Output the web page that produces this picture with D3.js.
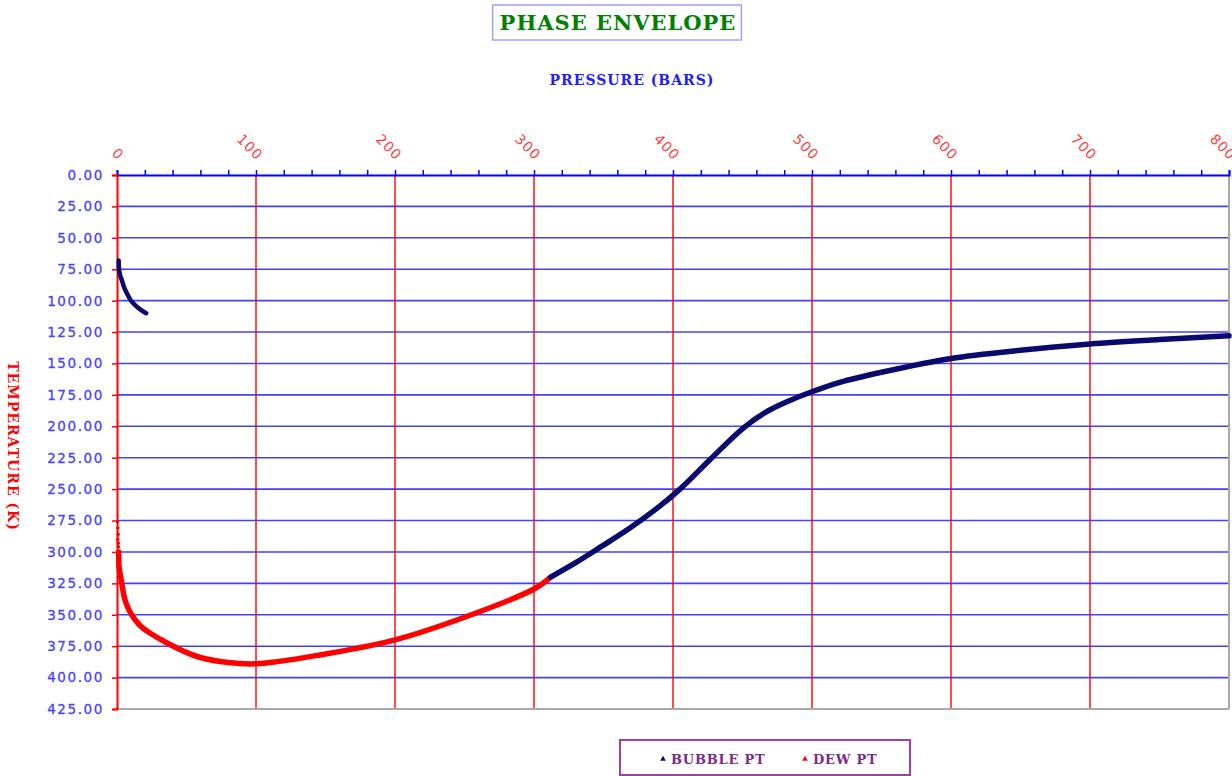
<!DOCTYPE html>
<html>
<head>
<meta charset="utf-8">
<script src="https://cdn.jsdelivr.net/npm/d3@7"></script>
<style>
  body { margin: 0; background: #fff; }
  svg { display: block; }
</style>
</head>
<body>
<div id="chart"></div>
<script>
// bubble point curve, low-pressure branch
var bubbleLowP = [1.2, 1.5, 2.3, 3.4, 5, 7, 9.5, 11.7, 15, 18, 21];
var bubbleLowT = [68, 75.6, 80, 83.5, 89, 94, 99, 102, 105.5, 108, 110];

// bubble point curve, high-pressure branch
var bubbleP = [312, 330, 348, 369, 390, 405, 428, 451, 468, 485, 500, 520, 550, 600, 650, 700, 750, 800];
var bubbleT = [320, 308.5, 296, 281, 264, 250, 225, 201, 188, 179, 172.5, 165, 157, 146, 139.5, 134.5, 131, 128];

// dew point curve
var dewP = [1.2, 1.5, 2.7, 5.7, 9, 13, 18, 23.7, 36, 48, 60, 80, 100, 146, 200, 250, 300, 312];
var dewT = [300, 312, 320, 338, 347, 354, 360, 364.5, 372.5, 379, 384, 388, 389, 382, 370, 352, 329.5, 320];

// loose dew points near zero pressure
var dewScatterP = [0.4, 0.6, 0.8, 0.5, 0.9, 1.0];
var dewScatterT = [276, 281, 286, 290, 293, 296];

var xTicks = [0, 100, 200, 300, 400, 500, 600, 700, 800];
var yTicks = d3.range(0, 426, 25);

var margin = {top: 175, right: 3, bottom: 67, left: 117},
width = 1232 - margin.left - margin.right,
height = 776 - margin.top - margin.bottom;

var svg = d3.select("#chart")
.append("svg")
.attr("width", 1232)
.attr("height", 776);

var g = svg.append("g")
.attr("transform", "translate(" + margin.left + "," + margin.top + ")");

var x = d3.scaleLinear().domain([0, 800]).range([0, width]);
var y = d3.scaleLinear().domain([0, 425]).range([0, height]);

// horizontal gridlines
g.selectAll(".hgrid")
.data(yTicks.slice(1, -1))
.enter()
.append("line")
.attr("x1", 0)
.attr("x2", width)
.attr("y1", function(d) { return y(d); })
.attr("y2", function(d) { return y(d); })
.attr("stroke", "#0000ff")
.attr("stroke-opacity", 0.75)
.attr("stroke-width", 1.6);

// vertical gridlines
g.selectAll(".vgrid")
.data(xTicks.slice(1, -1))
.enter()
.append("line")
.attr("x1", function(d) { return x(d); })
.attr("x2", function(d) { return x(d); })
.attr("y1", 0)
.attr("y2", height)
.attr("stroke", "#ff0000")
.attr("stroke-opacity", 0.7)
.attr("stroke-width", 2);

// plot border right/bottom
g.append("line").attr("x1", 0).attr("x2", width).attr("y1", height).attr("y2", height)
.attr("stroke", "#a8a8a8").attr("stroke-width", 2);
g.append("line").attr("x1", width).attr("x2", width).attr("y1", 0).attr("y2", height)
.attr("stroke", "#a8a8a8").attr("stroke-width", 2);

// top x axis
var xAxis = g.append("g")
.call(d3.axisTop(x).tickValues(d3.range(0, 801, 20)).tickSize(5).tickFormat(""));
xAxis.select(".domain").attr("stroke", "#0000ff").attr("stroke-width", 2);
xAxis.selectAll(".tick line").attr("stroke", "#0000ff").attr("stroke-width", 1.5);

g.selectAll(".xlab")
.data(xTicks)
.enter()
.append("text")
.attr("transform", function(d) { return "translate(" + (x(d) + 1) + ",-14) rotate(45)"; })
.attr("text-anchor", "end")
.attr("font-family", "DejaVu Sans")
.attr("font-size", "14px")
.attr("fill", "#ff4040")
.attr("letter-spacing", "1px")
.text(function(d) { return d; });

// left y axis
var yAxis = g.append("g")
.call(d3.axisLeft(y).tickValues(yTicks).tickSize(5).tickFormat(""));
yAxis.select(".domain").attr("stroke", "#ff0000").attr("stroke-width", 2);
yAxis.selectAll(".tick line").attr("stroke", "#ff0000").attr("stroke-width", 1.5);

g.selectAll(".ylab")
.data(yTicks)
.enter()
.append("text")
.attr("x", -13)
.attr("y", function(d) { return y(d); })
.attr("dy", "0.36em")
.attr("text-anchor", "end")
.attr("font-family", "DejaVu Sans")
.attr("font-size", "13.5px")
.attr("letter-spacing", "1.6px")
.attr("fill", "#4444ff")
.attr("stroke", "#4444ff")
.attr("stroke-width", 0.3)
.text(function(d) { return d3.format(".2f")(d); });

// curves
var line = d3.line()
.x(function(d) { return x(d[0]); })
.y(function(d) { return y(d[1]); })
.curve(d3.curveCatmullRom);

function zip(a, b) { return a.map(function(v, i) { return [v, b[i]]; }); }

g.append("path")
.datum(zip(dewP, dewT))
.attr("d", line)
.attr("fill", "none")
.attr("stroke", "#ff0000")
.attr("stroke-width", 5.5)
.attr("stroke-linecap", "round");

g.selectAll(".dewdot")
.data(zip(dewScatterP, dewScatterT))
.enter()
.append("circle")
.attr("cx", function(d) { return x(d[0]); })
.attr("cy", function(d) { return y(d[1]); })
.attr("r", 1.8)
.attr("fill", "#ff0000");

g.append("path")
.datum(zip(bubbleP, bubbleT))
.attr("d", line)
.attr("fill", "none")
.attr("stroke", "#0a0a6e")
.attr("stroke-width", 5.5)
.attr("stroke-linecap", "round");

g.append("path")
.datum(zip(bubbleLowP, bubbleLowT))
.attr("d", line)
.attr("fill", "none")
.attr("stroke", "#0a0a6e")
.attr("stroke-width", 4.5)
.attr("stroke-linecap", "round");

// title
var titleBox = svg.append("rect");
var title = svg.append("text")
.attr("x", 618)
.attr("y", 30)
.attr("text-anchor", "middle")
.attr("font-family", "DejaVu Serif")
.attr("font-weight", "bold")
.attr("font-size", "21px")
.attr("letter-spacing", "1px")
.attr("fill", "#008000")
.text("PHASE ENVELOPE");
var tw = title.node().getComputedTextLength();
titleBox
.attr("x", 618 - tw / 2 - 7)
.attr("y", 5)
.attr("width", tw + 12)
.attr("height", 35)
.attr("fill", "none")
.attr("stroke", "#a0a0ff")
.attr("stroke-width", 1.5);

svg.append("text")
.attr("x", 632)
.attr("y", 85)
.attr("text-anchor", "middle")
.attr("font-family", "DejaVu Serif")
.attr("font-weight", "bold")
.attr("font-size", "14px")
.attr("letter-spacing", "1px")
.attr("fill", "#2020ff")
.text("PRESSURE (BARS)");

svg.append("text")
.attr("transform", "translate(8,446) rotate(90)")
.attr("text-anchor", "middle")
.attr("font-family", "DejaVu Serif")
.attr("font-weight", "bold")
.attr("font-size", "14px")
.attr("letter-spacing", "1px")
.attr("fill", "#ff0000")
.text("TEMPERATURE (K)");

// legend
svg.append("rect")
.attr("x", 620)
.attr("y", 740)
.attr("width", 290)
.attr("height", 35)
.attr("fill", "#fff")
.attr("stroke", "#a040a0")
.attr("stroke-width", 2);

var legendItems = [
  {label: "BUBBLE PT", color: "#0a0a6e", lx: 663},
  {label: "DEW PT", color: "#ff0000", lx: 805}
];
legendItems.forEach(function(it) {
  svg.append("path")
  .attr("d", d3.symbol().type(d3.symbolTriangle).size(14))
  .attr("transform", "translate(" + it.lx + ",759)")
  .attr("fill", it.color);
  svg.append("text")
  .attr("x", it.lx + 8)
  .attr("y", 764)
  .attr("font-family", "DejaVu Serif")
  .attr("font-weight", "bold")
  .attr("font-size", "13px")
  .attr("letter-spacing", "0.8px")
  .attr("fill", "#7a2a8c")
  .text(it.label);
});
</script>
</body>
</html>
